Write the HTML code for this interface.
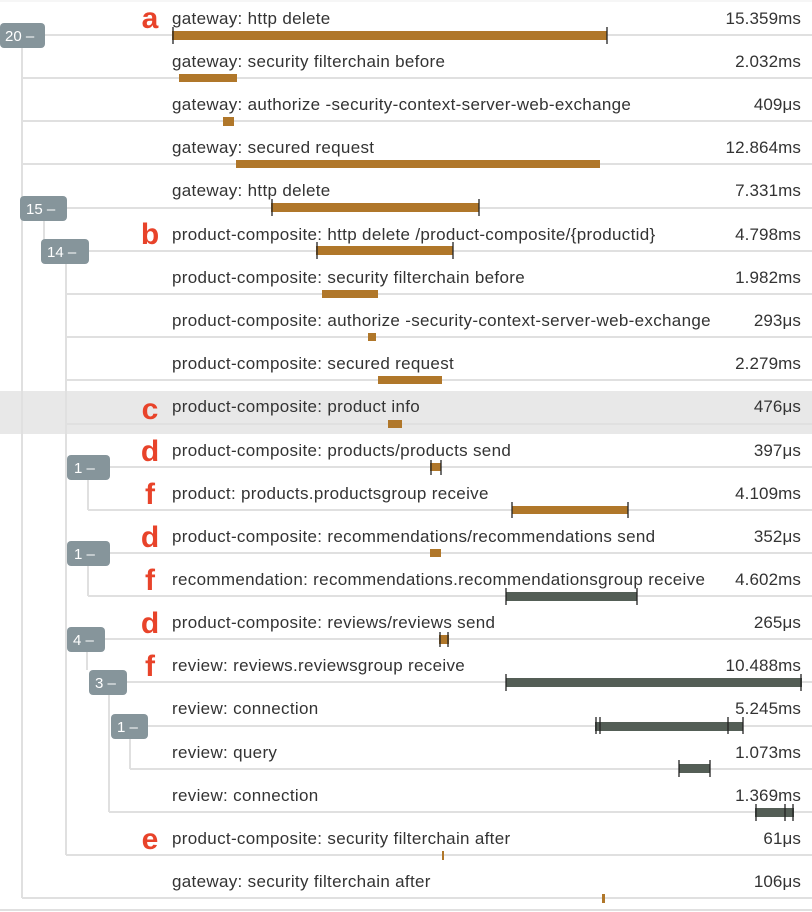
<!DOCTYPE html>
<html><head><meta charset="utf-8"><style>
body{margin:0;background:#fff;}
svg{display:block;font-family:"Liberation Sans",Arial,sans-serif;}
.t{font-size:17px;letter-spacing:0.32px;fill:#333;}
.d{font-size:17px;letter-spacing:0.1px;fill:#333;text-anchor:end;}
.l{font-size:30px;font-weight:bold;fill:#e8432a;text-anchor:middle;}
.b{font-size:15px;fill:#fff;}
.ln{stroke:#e0e0e0;stroke-width:2;fill:none;}
.o{fill:#b0772a;}
.g{fill:#545e56;}
.k{stroke:#222;stroke-width:1.3;}
</style></head><body>
<svg width="812" height="912" viewBox="0 0 812 912">
<rect x="0" y="391" width="812" height="43" fill="#e8e8e8"/>
<line x1="0" y1="1" x2="812" y2="1" stroke="#eee"/>
<line x1="0" y1="910" x2="812" y2="910" stroke="#e0e0e0" stroke-width="2"/>
<g class="ln">
<line x1="45" y1="35" x2="812" y2="35"/>
<line x1="22" y1="78" x2="812" y2="78"/>
<line x1="22" y1="121" x2="812" y2="121"/>
<line x1="22" y1="164" x2="812" y2="164"/>
<line x1="67" y1="208" x2="812" y2="208"/>
<line x1="89" y1="251" x2="812" y2="251"/>
<line x1="66" y1="294" x2="812" y2="294"/>
<line x1="66" y1="337" x2="812" y2="337"/>
<line x1="66" y1="380" x2="812" y2="380"/>
<line x1="66" y1="424" x2="812" y2="424"/>
<line x1="110" y1="467" x2="812" y2="467"/>
<line x1="88" y1="510" x2="812" y2="510"/>
<line x1="110" y1="553" x2="812" y2="553"/>
<line x1="88" y1="596" x2="812" y2="596"/>
<line x1="105" y1="639" x2="812" y2="639"/>
<line x1="127" y1="682" x2="812" y2="682"/>
<line x1="148" y1="726" x2="812" y2="726"/>
<line x1="130" y1="769" x2="812" y2="769"/>
<line x1="109" y1="812" x2="812" y2="812"/>
<line x1="66" y1="855" x2="812" y2="855"/>
<line x1="22" y1="898" x2="812" y2="898"/>
<line x1="22" y1="48" x2="22" y2="898"/>
<line x1="44" y1="220" x2="44" y2="240"/>
<line x1="66" y1="263" x2="66" y2="855"/>
<line x1="88" y1="479" x2="88" y2="510"/>
<line x1="88" y1="565" x2="88" y2="596"/>
<line x1="87" y1="651" x2="87" y2="670"/>
<line x1="109" y1="694" x2="109" y2="812"/>
<line x1="130" y1="738" x2="130" y2="769"/>
</g>
<g>
<rect x="0" y="23" width="45" height="25" rx="4" fill="#86959b"/><text class="b" x="5" y="41">20 –</text>
<rect x="20" y="196" width="47" height="25" rx="4" fill="#86959b"/><text class="b" x="26" y="214">15 –</text>
<rect x="41" y="239" width="48" height="25" rx="4" fill="#86959b"/><text class="b" x="47" y="257">14 –</text>
<rect x="67" y="455" width="43" height="25" rx="4" fill="#86959b"/><text class="b" x="74" y="473">1 –</text>
<rect x="67" y="541" width="43" height="25" rx="4" fill="#86959b"/><text class="b" x="74" y="559">1 –</text>
<rect x="67" y="627" width="38" height="25" rx="4" fill="#86959b"/><text class="b" x="73" y="645">4 –</text>
<rect x="89" y="670" width="38" height="25" rx="4" fill="#86959b"/><text class="b" x="95" y="688">3 –</text>
<rect x="111" y="714" width="37" height="25" rx="4" fill="#86959b"/><text class="b" x="117" y="732">1 –</text>
</g>
<text class="l" x="150" y="28">a</text>
<text class="l" x="150" y="244">b</text>
<text class="l" x="150" y="419">c</text>
<text class="l" x="150" y="461">d</text>
<text class="l" x="150" y="504">f</text>
<text class="l" x="150" y="547">d</text>
<text class="l" x="150" y="590">f</text>
<text class="l" x="150" y="633">d</text>
<text class="l" x="150" y="676">f</text>
<text class="l" x="150" y="849">e</text>
<g class="t">
<text x="172" y="24">gateway: http delete</text>
<text x="172" y="67">gateway: security filterchain before</text>
<text x="172" y="110">gateway: authorize -security-context-server-web-exchange</text>
<text x="172" y="153">gateway: secured request</text>
<text x="172" y="196">gateway: http delete</text>
<text x="172" y="240">product-composite: http delete /product-composite/{productid}</text>
<text x="172" y="283">product-composite: security filterchain before</text>
<text x="172" y="326">product-composite: authorize -security-context-server-web-exchange</text>
<text x="172" y="369">product-composite: secured request</text>
<text x="172" y="412">product-composite: product info</text>
<text x="172" y="456">product-composite: products/products send</text>
<text x="172" y="499">product: products.productsgroup receive</text>
<text x="172" y="542">product-composite: recommendations/recommendations send</text>
<text x="172" y="585">recommendation: recommendations.recommendationsgroup receive</text>
<text x="172" y="628">product-composite: reviews/reviews send</text>
<text x="172" y="671">review: reviews.reviewsgroup receive</text>
<text x="172" y="714">review: connection</text>
<text x="172" y="758">review: query</text>
<text x="172" y="801">review: connection</text>
<text x="172" y="844">product-composite: security filterchain after</text>
<text x="172" y="887">gateway: security filterchain after</text>
</g>
<g class="d">
<text x="801" y="24">15.359ms</text>
<text x="801" y="67">2.032ms</text>
<text x="801" y="110">409μs</text>
<text x="801" y="153">12.864ms</text>
<text x="801" y="196">7.331ms</text>
<text x="801" y="240">4.798ms</text>
<text x="801" y="283">1.982ms</text>
<text x="801" y="326">293μs</text>
<text x="801" y="369">2.279ms</text>
<text x="801" y="412">476μs</text>
<text x="801" y="456">397μs</text>
<text x="801" y="499">4.109ms</text>
<text x="801" y="542">352μs</text>
<text x="801" y="585">4.602ms</text>
<text x="801" y="628">265μs</text>
<text x="801" y="671">10.488ms</text>
<text x="801" y="714">5.245ms</text>
<text x="801" y="758">1.073ms</text>
<text x="801" y="801">1.369ms</text>
<text x="801" y="844">61μs</text>
<text x="801" y="887">106μs</text>
</g>
<rect class="o" x="172" y="31" width="435" height="9"/>
<line class="k" x1="173" y1="27" x2="173" y2="44"/><line class="k" x1="607" y1="27" x2="607" y2="44"/>
<rect class="o" x="179" y="74" width="58" height="8"/>
<rect class="o" x="223" y="117" width="11" height="9"/>
<rect class="o" x="236" y="160" width="364" height="8"/>
<rect class="o" x="271" y="203" width="208" height="9"/>
<line class="k" x1="272" y1="199" x2="272" y2="216"/><line class="k" x1="479" y1="199" x2="479" y2="216"/>
<rect class="o" x="316" y="246" width="137" height="9"/>
<line class="k" x1="317" y1="242" x2="317" y2="259"/><line class="k" x1="453" y1="242" x2="453" y2="259"/>
<rect class="o" x="322" y="290" width="56" height="8"/>
<rect class="o" x="368" y="333" width="8" height="8"/>
<rect class="o" x="378" y="376" width="64" height="8"/>
<rect class="o" x="388" y="420" width="14" height="8"/>
<rect class="o" x="430" y="463" width="11" height="8"/>
<line class="k" x1="431" y1="460" x2="431" y2="475"/><line class="k" x1="441" y1="460" x2="441" y2="475"/>
<rect class="o" x="512" y="506" width="116" height="8"/>
<line class="k" x1="512" y1="502" x2="512" y2="518"/><line class="k" x1="628" y1="502" x2="628" y2="518"/>
<rect class="o" x="430" y="549" width="11" height="8"/>
<rect class="g" x="506" y="592" width="131" height="9"/>
<line class="k" x1="506" y1="588" x2="506" y2="605"/><line class="k" x1="637" y1="588" x2="637" y2="605"/>
<rect class="o" x="439" y="635" width="10" height="9"/>
<line class="k" x1="440" y1="632" x2="440" y2="647"/><line class="k" x1="448" y1="632" x2="448" y2="647"/>
<rect class="g" x="506" y="678" width="296" height="9"/>
<line class="k" x1="506" y1="674" x2="506" y2="691"/><line class="k" x1="801" y1="674" x2="801" y2="691"/>
<rect class="g" x="595" y="722" width="148" height="9"/>
<line class="k" x1="596" y1="717" x2="596" y2="734"/><line class="k" x1="600" y1="717" x2="600" y2="734"/><line class="k" x1="728" y1="717" x2="728" y2="734"/><line class="k" x1="743" y1="717" x2="743" y2="734"/>
<rect class="g" x="679" y="764" width="31" height="9"/>
<line class="k" x1="679" y1="760" x2="679" y2="777"/><line class="k" x1="710" y1="760" x2="710" y2="777"/>
<rect class="g" x="755" y="808" width="39" height="9"/>
<line class="k" x1="756" y1="804" x2="756" y2="821"/><line class="k" x1="785" y1="804" x2="785" y2="821"/><line class="k" x1="793" y1="804" x2="793" y2="821"/>
<rect class="o" x="442" y="851" width="2" height="9"/>
<rect class="o" x="602" y="894" width="3" height="9"/>
</svg>
</body></html>
